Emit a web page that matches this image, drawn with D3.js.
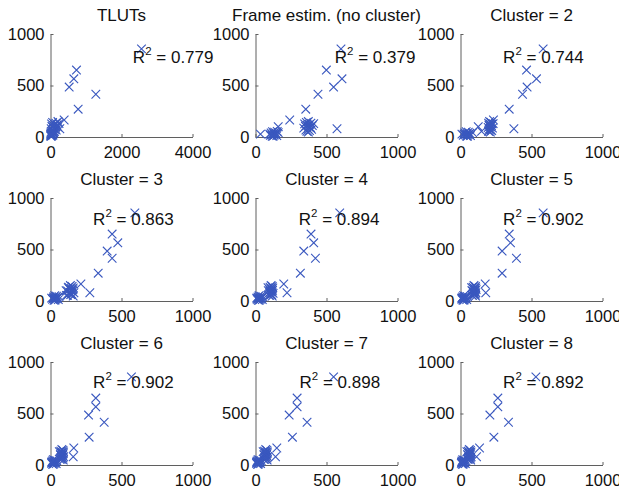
<!DOCTYPE html>
<html>
<head>
<meta charset="utf-8">
<script src="https://cdn.jsdelivr.net/npm/d3@7"></script>
<style>
  html, body { margin: 0; padding: 0; background: #fff; }
  svg { display: block; font-family: "Liberation Sans", Arial, Helvetica, sans-serif; }
</style>
</head>
<body>
<svg id="chart" width="619" height="494"></svg>
<script>
// ---------------- DATA ----------------
const titles = ["TLUTs", "Frame estim. (no cluster)", "Cluster = 2", "Cluster = 3",
  "Cluster = 4", "Cluster = 5", "Cluster = 6", "Cluster = 7", "Cluster = 8"];
const r2Values = ["0.779", "0.379", "0.744", "0.863", "0.894", "0.902", "0.902", "0.898", "0.892"];
const xDomainMax = [4000, 1000, 1000, 1000, 1000, 1000, 1000, 1000, 1000];
const xTickValues = [[0, 2000, 4000], [0, 500, 1000], [0, 500, 1000], [0, 500, 1000],
  [0, 500, 1000], [0, 500, 1000], [0, 500, 1000], [0, 500, 1000], [0, 500, 1000]];
const yTickValues = [0, 500, 1000];

// observed value (vertical axis), shared by all panels
const yObserved = [855, 650, 565, 485, 415, 270, 165, 80, 100, 55,
  150, 142, 135, 128, 122, 116, 110, 104, 98, 92, 86, 80, 74, 68, 62, 55, 48, 130,
  52, 46, 40, 36, 32, 28, 25, 22, 19, 16, 13, 10, 7, 42,
  28];

// estimated value (horizontal axis), one array per panel
const xTLUTs = [2563, 732, 657, 526, 1277, 779, 385, 263, 150, 110,
  210, 60, 150, 30, 120, 180, 90, 40, 200, 70, 140, 20, 110, 160, 50, 100, 80, 240,
  20, 60, 10, 80, 40, 15, 50, 30, 70, 5, 45, 25, 10, 90,
  5];
const xFrame = [602, 499, 609, 550, 440, 354, 241, 574, 160, 153,
  372, 358, 390, 346, 380, 365, 400, 352, 375, 388, 340, 368, 395, 355, 380, 362, 372, 410,
  120, 135, 110, 145, 128, 100, 140, 115, 132, 105, 150, 125, 118, 160,
  35];
const xCluster2 = [582, 465, 535, 469, 437, 343, 232, 376, 125, 148,
  205, 215, 198, 222, 210, 200, 218, 206, 212, 195, 225, 208, 202, 214, 220, 198, 210, 230,
  40, 55, 30, 65, 45, 25, 60, 35, 50, 20, 70, 42, 48, 85,
  10];
const xCluster3 = [594, 434, 474, 399, 434, 336, 214, 277, 110, 120,
  140, 152, 128, 160, 145, 135, 158, 148, 120, 155, 138, 165, 130, 150, 142, 112, 160, 125,
  30, 42, 22, 50, 35, 18, 45, 28, 38, 15, 55, 32, 25, 60,
  8];
const xCluster4 = [593, 391, 410, 340, 422, 316, 199, 222, 90, 100,
  110, 118, 102, 122, 108, 115, 98, 120, 112, 105, 117, 100, 124, 108, 113, 95, 118, 88,
  25, 38, 18, 45, 30, 15, 40, 22, 35, 12, 48, 28, 20, 52,
  8];
const xCluster5 = [582, 343, 352, 293, 394, 293, 174, 178, 80, 85,
  95, 105, 88, 108, 98, 92, 110, 100, 85, 102, 96, 108, 90, 104, 98, 82, 106, 78,
  22, 34, 15, 40, 28, 12, 36, 20, 30, 10, 44, 25, 18, 48,
  8];
const xCluster6 = [570, 319, 319, 268, 378, 272, 164, 160, 70, 75,
  80, 88, 72, 92, 82, 76, 90, 85, 70, 86, 78, 92, 74, 88, 80, 66, 90, 62,
  20, 30, 14, 36, 25, 10, 32, 18, 28, 8, 40, 22, 15, 44,
  8];
const xCluster7 = [550, 293, 293, 237, 363, 260, 150, 141, 60, 65,
  72, 80, 64, 84, 74, 68, 82, 76, 60, 78, 70, 85, 65, 80, 72, 58, 82, 54,
  18, 28, 12, 34, 22, 9, 30, 16, 25, 7, 36, 20, 14, 40,
  8];
const xCluster8 = [531, 263, 263, 207, 338, 235, 134, 113, 50, 55,
  62, 70, 55, 74, 64, 58, 72, 66, 52, 68, 60, 75, 56, 70, 62, 48, 72, 45,
  16, 26, 11, 32, 20, 8, 28, 15, 24, 6, 34, 19, 13, 38,
  8];
const panelX = [xTLUTs, xFrame, xCluster2, xCluster3, xCluster4, xCluster5, xCluster6, xCluster7, xCluster8];

// R² annotation anchor (data units, per panel)
const r2AnchorX = [2320, 558, 300, 300, 305, 300, 300, 310, 300];
const r2AnchorY = [720, 720, 720, 738, 738, 738, 745, 745, 745];

// ---------------- LAYOUT ----------------
const colLeft = [50.5, 255.5, 460.5];
const rowTop = [34, 198, 362];
const plotW = 142, plotH = 103;
const markerColor = "#3a58bf";
const axisColor = "#5f5f5f";
const tickFont = 16.5, titleFont = 17, noteFont = 17;

const svg = d3.select("#chart");

titles.forEach((title, i) => {
  const r = Math.floor(i / 3), c = i % 3;
  const g = svg.append("g").attr("transform", `translate(${colLeft[c]},${rowTop[r]})`);
  const x = d3.scaleLinear().domain([0, xDomainMax[i]]).range([0, plotW]);
  const y = d3.scaleLinear().domain([0, 1000]).range([plotH, 0]);

  // x axis
  const xAxis = d3.axisBottom(x).tickValues(xTickValues[i]).tickSizeInner(-3).tickSizeOuter(0)
    .tickPadding(9).tickFormat(d3.format("d"));
  const gx = g.append("g").attr("transform", `translate(0,${plotH})`).call(xAxis);
  // y axis
  const yAxis = d3.axisLeft(y).tickValues(yTickValues).tickSizeInner(-3).tickSizeOuter(0)
    .tickPadding(6).tickFormat(d3.format("d"));
  const gy = g.append("g").call(yAxis);

  [gx, gy].forEach(ax => {
    ax.select(".domain").attr("stroke", axisColor).attr("stroke-width", 1);
    ax.selectAll(".tick line").attr("stroke", axisColor);
    ax.selectAll(".tick text").attr("fill", "#111").attr("font-size", tickFont)
      .attr("font-family", "'Liberation Sans', Arial, sans-serif");
  });
  gx.selectAll(".tick text").attr("dy", "0.71em");

  // title
  g.append("text").attr("x", plotW / 2).attr("y", -13.5).attr("text-anchor", "middle")
    .attr("font-size", titleFont).attr("fill", "#111").text(title);

  // markers
  const xs = panelX[i];
  g.append("g").selectAll("path").data(xs.map((v, k) => [v, yObserved[k]])).join("path")
    .attr("transform", d => `translate(${x(d[0])},${y(d[1])})`)
    .attr("d", "M-4.3,-4.3L4.3,4.3M-4.3,4.3L4.3,-4.3")
    .attr("stroke", markerColor).attr("stroke-width", 1.1).attr("fill", "none");

  // R² annotation
  const t = g.append("text").attr("x", x(r2AnchorX[i])).attr("y", y(r2AnchorY[i]))
    .attr("font-size", noteFont).attr("fill", "#111");
  t.append("tspan").text("R");
  t.append("tspan").attr("font-size", 11.5).attr("dy", -8).text("2");
  t.append("tspan").attr("dy", 8).text("\u00a0= " + r2Values[i]);
});
</script>
</body>
</html>
